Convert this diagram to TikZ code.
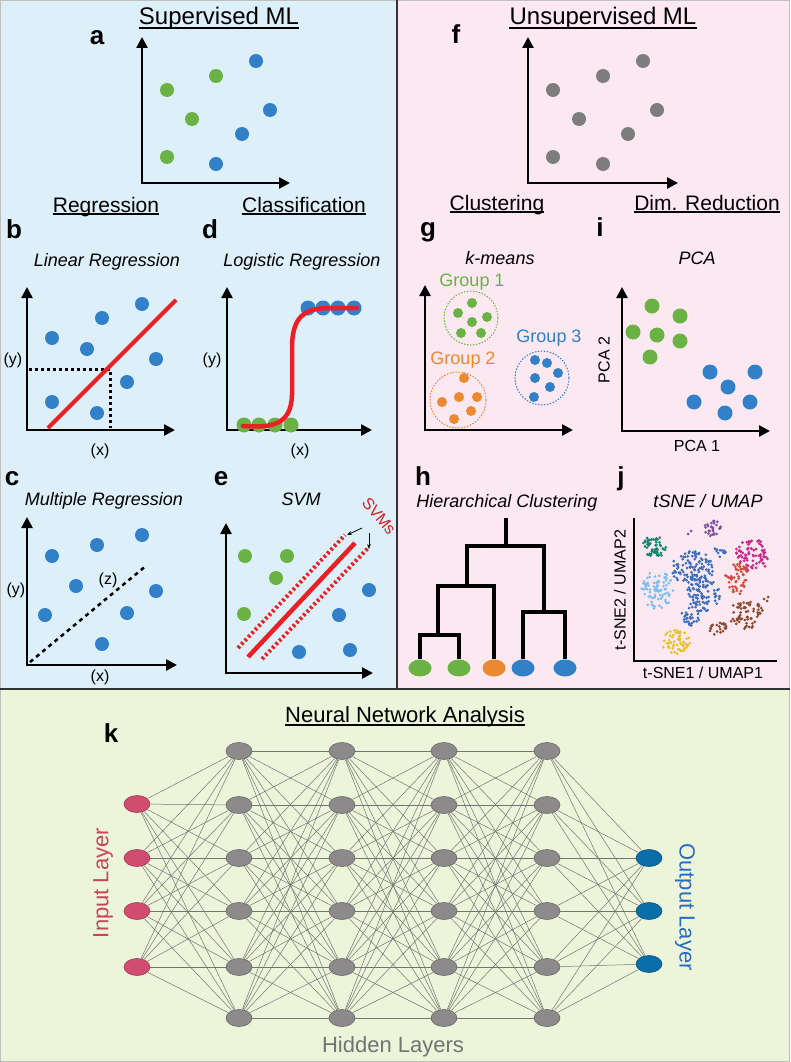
\documentclass[tikz,border=0pt]{standalone}
\usepackage{fontspec}
\setmainfont{Liberation Sans}
\usetikzlibrary{arrows.meta,shapes.geometric}

\definecolor{bgblue}{RGB}{221,239,249}
\definecolor{bgpink}{RGB}{252,232,240}
\definecolor{bggreen}{RGB}{236,245,218}
\definecolor{dotgreen}{RGB}{106,178,68}
\definecolor{dotblue}{RGB}{50,128,200}
\definecolor{dotgray}{RGB}{125,125,125}
\definecolor{fitred}{RGB}{236,32,36}
\definecolor{grporange}{RGB}{234,137,48}
\definecolor{inred}{RGB}{209,77,111}
\definecolor{hidgray}{RGB}{140,138,138}
\definecolor{outblue}{RGB}{10,110,168}
\definecolor{intxt}{RGB}{200,68,86}
\definecolor{outtxt}{RGB}{44,108,190}
\definecolor{tteal}{RGB}{20,135,110}
\definecolor{tpurple}{RGB}{125,80,160}
\definecolor{tmagenta}{RGB}{200,40,135}
\definecolor{tlight}{RGB}{125,190,240}
\definecolor{tblue}{RGB}{60,110,190}
\definecolor{tred}{RGB}{210,75,62}
\definecolor{tbrown}{RGB}{140,75,48}
\definecolor{tyellow}{RGB}{232,194,44}

\tikzstyle{axis}=[line width=2.5pt,arrows={Triangle[length=11pt,width=11pt]-Triangle[length=11pt,width=11pt]}]
\tikzstyle{header}=[font=\fontsize{24}{24}\selectfont,inner sep=0pt,anchor=base]
\tikzstyle{subhead}=[font=\fontsize{21}{21}\selectfont,inner sep=0pt,anchor=base]
\tikzstyle{panel}=[font=\fontsize{26}{26}\selectfont\bfseries,inner sep=0pt,anchor=base]
\tikzstyle{method}=[font=\fontsize{18}{18}\selectfont\itshape,inner sep=0pt,anchor=base]
\tikzstyle{axlabel}=[font=\fontsize{16}{16}\selectfont,inner sep=0pt]
\tikzstyle{uline}=[line width=1.2pt]
\tikzstyle{sepline}=[line width=1.5pt,black!80]
\tikzstyle{grpring}=[line width=1pt,dash pattern=on 1.5pt off 1.5pt]
\tikzstyle{dendro}=[line width=4pt,line join=miter]
\tikzstyle{leaf}=[ellipse,minimum width=23pt,minimum height=17pt,inner sep=0pt]
\tikzstyle{innode}=[ellipse,minimum width=26pt,minimum height=17pt,inner sep=0pt,fill=inred,draw=inred!75!black,line width=.6pt]
\tikzstyle{hidnode}=[ellipse,minimum width=26pt,minimum height=17pt,inner sep=0pt,fill=hidgray,draw=hidgray!75!black,line width=.6pt]
\tikzstyle{outnode}=[ellipse,minimum width=26pt,minimum height=17pt,inner sep=0pt,fill=outblue,draw=outblue!75!black,line width=.6pt]
\tikzstyle{edge}=[line width=.5pt,black!55]
\tikzstyle{nnlabel}=[font=\fontsize{22}{22}\selectfont,inner sep=0pt]

% scattered points of one t-SNE cluster: colour, centre x, centre y, radius x, radius y, count
\newcommand{\tsneblob}[6]{%
  \foreach \k in {1,...,#6}{%
    \pgfmathsetmacro{\ang}{360*rnd}%
    \pgfmathsetmacro{\rad}{sqrt(rnd)}%
    \fill[#1] ({#2+#4*\rad*cos(\ang)},{#3+#5*\rad*sin(\ang)}) circle[radius=1.5pt];
  }}

\begin{document}
\begin{tikzpicture}[x=1pt,y=-1pt]
\useasboundingbox (0,0) rectangle (790,1062);

% panels
\fill[bgblue] (0,0) rectangle (397,689);
\fill[bgpink] (397,0) rectangle (790,689);
\fill[bggreen] (0,689) rectangle (790,1062);
\draw[black!25,line width=1pt] (0.5,0.5) rectangle (789.5,1061.5);
\draw[sepline] (397,0) -- (397,689);
\draw[sepline] (0,689) -- (790,689);

% ---------- supervised ----------
\node[header] (hsup) at (219,25) {Supervised ML};
\draw[uline] ([yshift=-3pt]hsup.base west) -- ([yshift=-3pt]hsup.base east);
\node[panel] (la) at (97,45) {a};
\draw[axis] (142,37) |- (290,183);
\foreach \x/\y in {167/90,216/76,192/119,167/157}
  \fill[dotgreen] (\x,\y) circle[radius=7pt];
\foreach \x/\y in {256/61,270/110,242/134,216/164}
  \fill[dotblue] (\x,\y) circle[radius=7pt];
\node[subhead] (hreg) at (106,212) {Regression};
\draw[uline] ([yshift=-2pt]hreg.base west) -- ([yshift=-2pt]hreg.base east);
\node[subhead] (hcls) at (304,212) {Classification};
\draw[uline] ([yshift=-2pt]hcls.base west) -- ([yshift=-2pt]hcls.base east);

% b: linear regression
\node[panel] (lb) at (14,238) {b};
\node[method] (tlin) at (107,266) {Linear Regression};
\draw[axis] (27,287) |- (175,430);
\foreach \x/\y in {52/338,102/318,142/304,87/349,156/359,127/382,52/402,97/413}
  \fill[dotblue] (\x,\y) circle[radius=7pt];
\draw[line width=3pt,dash pattern=on 3pt off 3pt] (29,369) -| (110,428);
\draw[fitred,line width=4pt] (48,428) -- (176,300);
\node[axlabel] (yb) at (13,360) {(y)};
\node[axlabel] (xb) at (100,451) {(x)};

% d: logistic regression
\node[panel] (ld) at (210,238) {d};
\node[method] (tlog) at (302,266) {Logistic Regression};
\draw[axis] (227,287) |- (372,430);
\foreach \x in {308,323,338,354}
  \fill[dotblue] (\x,308) circle[radius=7.5pt];
\foreach \x in {244,259,275,291}
  \fill[dotgreen] (\x,425) circle[radius=7.5pt];
\draw[fitred,line width=4.5pt,line cap=round] (243,426) .. controls (272,428) and (291,425) .. (292,395)
  -- (292,345) .. controls (293,316) and (305,308) .. (330,308) -- (357,308);
\node[axlabel] (yd) at (212,360) {(y)};
\node[axlabel] (xd) at (300,451) {(x)};

% c: multiple regression
\node[panel] (lc) at (12,485) {c};
\node[method] (tmul) at (104,505) {Multiple Regression};
\draw[axis] (27,517) |- (177,665);
\foreach \x/\y in {52/556,97/545,142/535,76/586,156/591,45/615,127/613,102/644}
  \fill[dotblue] (\x,\y) circle[radius=7pt];
\draw[line width=2.5pt,dash pattern=on 4pt off 4pt] (30,662) -- (147,565);
\node[axlabel] (zc) at (108,580) {(z)};
\node[axlabel] (yc) at (16,590) {(y)};
\node[axlabel] (xc) at (100,677) {(x)};

% e: SVM
\node[panel] (le) at (221,485) {e};
\node[method] (tsvm) at (301,505) {SVM};
\draw[axis] (226,523) |- (373,673);
\foreach \x/\y in {245/556,287/556,276/578,244/614}
  \fill[dotgreen] (\x,\y) circle[radius=7pt];
\foreach \x/\y in {369/590,339/615,299/652,350/650}
  \fill[dotblue] (\x,\y) circle[radius=7pt];
\draw[fitred,line width=4pt,dash pattern=on 2.5pt off 2.5pt] (238,648) -- (345,535);
\draw[fitred,line width=4pt,dash pattern=on 2.5pt off 2.5pt] (262,659) -- (369,547);
\draw[fitred,line width=4.5pt] (248,657) -- (355,543);
\node[axlabel,text=fitred!90!black,rotate=-50] (svms) at (379,516) {SVMs};
\draw[-{Stealth[length=5pt]},line width=.8pt] (362,528) -- (347,535);
\draw[-{Stealth[length=5pt]},line width=.8pt] (369,533) -- (369,549);

% ---------- unsupervised ----------
\node[header] (hunsup) at (603,25) {Unsupervised ML};
\draw[uline] ([yshift=-3pt]hunsup.base west) -- ([yshift=-3pt]hunsup.base east);
\node[panel] (lf) at (456,44) {f};
\draw[axis] (528,37) |- (678,183);
\foreach \x/\y in {553/90,603/76,579/119,553/157,643/61,657/110,628/134,603/164}
  \fill[dotgray] (\x,\y) circle[radius=7pt];
\node[subhead] (hclu) at (497,210) {Clustering};
\draw[uline] ([yshift=-2pt]hclu.base west) -- ([yshift=-2pt]hclu.base east);
\node[subhead] (hdim) at (707,210) {Dim. Reduction};
\draw[uline] ([yshift=-2pt]hdim.base west) -- ([yshift=-2pt]hdim.base east);

% g: k-means
\node[panel] (lg) at (428,236) {g};
\node[method] (tkm) at (500,264) {k-means};
\draw[axis] (425,285) |- (573,430);
\draw[grpring,dotgreen] (471,318) circle[radius=27pt];
\draw[grpring,grporange] (458,400) circle[radius=28pt];
\draw[grpring,dotblue] (542,378) circle[radius=27pt];
\foreach \x/\y in {472/303,458/313,487/317,472/322,461/333,481/333}
  \fill[dotgreen] (\x,\y) circle[radius=5pt];
\foreach \x/\y in {464/378,442/402,459/397,477/397,471/411,454/419}
  \fill[grporange] (\x,\y) circle[radius=5pt];
\foreach \x/\y in {535/360,547/363,558/373,535/378,550/387,534/397}
  \fill[dotblue] (\x,\y) circle[radius=5pt];
\node[axlabel,font=\fontsize{18}{18}\selectfont,text=dotgreen] (g1) at (472,282) {Group 1};
\node[axlabel,font=\fontsize{18}{18}\selectfont,text=grporange] (g2) at (463,360) {Group 2};
\node[axlabel,font=\fontsize{18}{18}\selectfont,text=dotblue] (g3) at (549,338) {Group 3};

% i: PCA
\node[panel] (li) at (600,236) {i};
\node[method] (tpca) at (697,264) {PCA};
\draw[axis] (622,287) |- (770,431);
\foreach \x/\y in {652/306,680/316,633/332,657/335,680/341,650/357}
  \fill[dotgreen] (\x,\y) circle[radius=7.5pt];
\foreach \x/\y in {710/372,755/372,728/387,694/402,750/402,725/413}
  \fill[dotblue] (\x,\y) circle[radius=7.5pt];
\node[axlabel,rotate=90] (pc2) at (604,360) {PCA 2};
\node[axlabel] (pc1) at (697,446) {PCA 1};

% h: hierarchical clustering
\node[panel] (lh) at (423,485) {h};
\node[method] (thc) at (507,507) {Hierarchical Clustering};
\node[leaf,fill=dotgreen] (leafA) at (420,668) {};
\node[leaf,fill=dotgreen] (leafB) at (459,668) {};
\node[leaf,fill=grporange] (leafC) at (494,668) {};
\node[leaf,fill=dotblue] (leafD) at (523,668) {};
\node[leaf,fill=dotblue] (leafE) at (565,668) {};
\coordinate (b1) at (438,635);
\coordinate (b2) at (467,586);
\coordinate (b3) at (544,612);
\coordinate (b4) at (506,546);
\coordinate (root) at (506,518);
\draw[dendro] (leafA) |- (b1) -| (leafB);
\draw[dendro] (b1) |- (b2) -| (leafC);
\draw[dendro] (leafD) |- (b3) -| (leafE);
\draw[dendro] (b2) |- (b4) -| (b3);
\draw[dendro] (b4) -- (root);

% j: tSNE / UMAP
\node[panel] (lj) at (621,485) {j};
\node[method] (tts) at (708,507) {tSNE / UMAP};
\draw[line width=2.5pt,line join=miter] (634,518) |- (777,661);
\pgfmathsetseed{11}
\tsneblob{tteal}{654}{547}{13}{11}{55}
\tsneblob{tpurple}{712}{528}{9}{8}{28}
\fill[tpurple] (688,534) circle[radius=1.5pt] (691,531) circle[radius=1.5pt];
\tsneblob{tmagenta}{752}{556}{18}{17}{80}
\tsneblob{tlight}{657}{590}{16}{19}{80}
\tsneblob{tblue}{693}{568}{22}{17}{110}
\tsneblob{tblue}{703}{595}{17}{18}{90}
\tsneblob{tblue}{690}{617}{10}{9}{25}
\tsneblob{tblue}{720}{551}{6}{6}{12}
\tsneblob{tred}{737}{578}{12}{17}{50}
\tsneblob{tbrown}{746}{614}{17}{15}{65}
\tsneblob{tbrown}{717}{628}{10}{7}{22}
\fill[tbrown] (764,599) circle[radius=1.5pt] (768,597) circle[radius=1.5pt] (767,601) circle[radius=1.5pt];
\tsneblob{tyellow}{676}{642}{14}{12}{55}
\node[axlabel,rotate=90] (ts2) at (620,590) {t-SNE2 / UMAP2};
\node[axlabel] (ts1) at (703,673) {t-SNE1 / UMAP1};

% ---------- neural network ----------
\node[header,font=\fontsize{22}{22}\selectfont] (hnn) at (405,722) {Neural Network Analysis};
\draw[uline] ([yshift=-3pt]hnn.base west) -- ([yshift=-3pt]hnn.base east);
\node[panel] (lk) at (111,742) {k};
\foreach \y [count=\i] in {804,858,911,967}
  \node[innode] (in\i) at (137,\y) {};
\foreach \x [count=\l] in {239,342,444,547}
  \foreach \y [count=\i] in {751,805,858,911,967,1018}
    \node[hidnode] (h\l-\i) at (\x,\y) {};
\foreach \y [count=\i] in {858,911,964}
  \node[outnode] (out\i) at (649,\y) {};
\foreach \i in {1,...,4}
  \foreach \j in {1,...,6}
    \draw[edge] (in\i) -- (h1-\j);
\foreach \l/\m in {1/2,2/3,3/4}
  \foreach \i in {1,...,6}
    \foreach \j in {1,...,6}
      \draw[edge] (h\l-\i) -- (h\m-\j);
\foreach \i in {1,...,6}
  \foreach \j in {1,2,3}
    \draw[edge] (h4-\i) -- (out\j);
\node[nnlabel,text=intxt,rotate=90] (tin) at (103,883) {Input Layer};
\node[nnlabel,text=outtxt,rotate=-90] (tout) at (685,907) {Output Layer};
\node[nnlabel,text=black!55] (thid) at (393,1047) {Hidden Layers};
\end{tikzpicture}
\end{document}
